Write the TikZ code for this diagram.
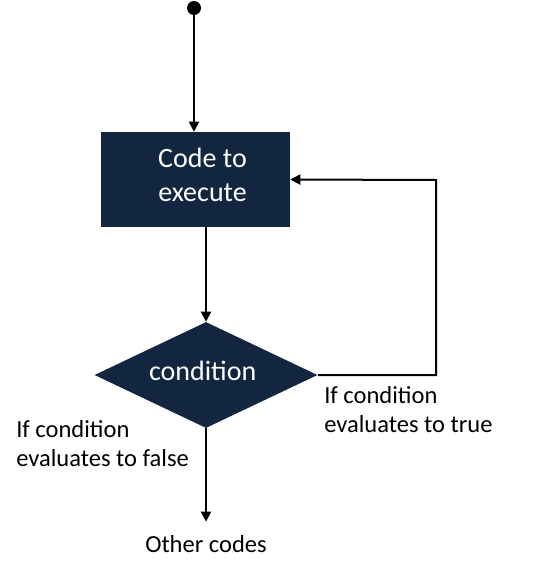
\documentclass[tikz,border=0pt]{standalone}
\usepackage{fontspec}
\setmainfont{Carlito}
\usepackage{tikz}
\usetikzlibrary{arrows.meta,positioning,shapes.geometric}
\definecolor{Navy}{HTML}{13263F}

\begin{document}
\begin{tikzpicture}[
  x=0.75pt,y=-0.75pt,
  block/.style={draw=none,fill=Navy,text=white,minimum width=141.75pt,minimum height=71.25pt,align=center,text depth=7.5pt,font=\fontsize{21}{25.5}\selectfont},
  test/.style={diamond,aspect=2.1,draw=none,fill=Navy,text=white,inner sep=0pt,minimum width=167.25pt,minimum height=79.5pt,text depth=6pt,font=\fontsize{21}{25}\selectfont},
  note/.style={align=left,inner sep=0pt,font=\fontsize{18.4}{22}\selectfont},
  dot/.style={circle,fill=black,inner sep=0pt,minimum size=10.5pt},
  arrow/.style={-{Triangle[length=7.5pt,width=7.5pt]},line width=1.5pt}
]
\useasboundingbox (0,0) rectangle (533,575);
\node[dot] (start) at (194,8) {};
\node[block] (code) at (195.5,179.5) {\hspace*{10.5pt}Code to\\\hspace*{10.5pt}execute};
\node[test] (cond) at (206,375) {condition\kern5pt};
\node[note,anchor=north] (other) at (206,535) {Other codes};
\node[note,anchor=north west] (false) at (16,420) {If condition\\evaluates to false};
\node[note,anchor=north west] (true) at (324,386) {If condition\\evaluates to true};
\coordinate (turn) at (436,180);
\draw[arrow] (start) -- (start |- code.north);
\draw[arrow] (code.south -| cond.north) -- (cond.north);
\draw[arrow] (cond.east) -| (turn) -- (code.east);
\draw[arrow] (cond.south) -- ([yshift=10pt]other.north);
\end{tikzpicture}
\end{document}
